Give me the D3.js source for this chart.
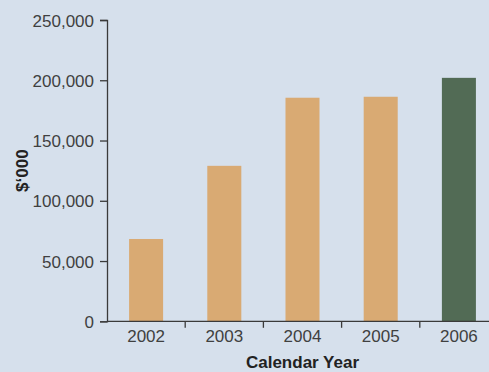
<!DOCTYPE html>
<html>
<head>
<meta charset="utf-8">
<script src="https://cdn.jsdelivr.net/npm/d3@7/dist/d3.min.js"></script>
<style>
  html, body { margin: 0; padding: 0; background: #d6e0ec; }
  svg { display: block; }
  text { font-family: "Liberation Sans", Arial, Helvetica, sans-serif; }
</style>
</head>
<body>
<svg id="chart" width="489" height="372"></svg>
<script>
const years = ["2002", "2003", "2004", "2005", "2006"];
const values = [68300, 129000, 185500, 186300, 202000];
const barColors = ["#d9aa73", "#d9aa73", "#d9aa73", "#d9aa73", "#526b55"];
const yTicks = [0, 50000, 100000, 150000, 200000, 250000];
const yTitle = "$\u2018000";
const xTitle = "Calendar Year";

const W = 489, H = 372;
const svg = d3.select("#chart");
svg.append("rect").attr("width", W).attr("height", H).attr("fill", "#d6e0ec");

const plotLeft = 107, plotRight = 498, plotTop = 20, plotBottom = 321.3;
const x = d3.scaleBand().domain(years).range([plotLeft, plotRight])
  .paddingInner(0.565).paddingOuter(0.2825);
const y = d3.scaleLinear().domain([0, 250000]).range([plotBottom, plotTop]);
const step = x.step();

// bars
svg.append("g").selectAll("rect").data(years).join("rect")
  .attr("x", d => x(d))
  .attr("width", x.bandwidth())
  .attr("y", (d, i) => y(values[i]))
  .attr("height", (d, i) => y(0) - y(values[i]))
  .attr("fill", (d, i) => barColors[i]);

const axisColor = "#3a3a3a";
const textColor = "#404040";

// y axis
const yAxis = svg.append("g").attr("transform", `translate(${plotLeft},0)`)
  .call(d3.axisLeft(y).tickValues(yTicks).tickSizeOuter(0).tickSize(7).tickPadding(6)
    .tickFormat(d3.format(",")));
yAxis.select(".domain").attr("stroke", axisColor).attr("stroke-width", 1.3);
yAxis.selectAll(".tick line").attr("stroke", axisColor).attr("stroke-width", 1.3);
yAxis.selectAll(".tick text").attr("fill", textColor)
  .style("font-size", "17px").attr("dy", "0.36em");

// x axis baseline
svg.append("line").attr("x1", plotLeft).attr("x2", W).attr("y1", y(0)).attr("y2", y(0))
  .attr("stroke", axisColor).attr("stroke-width", 1.3);
// boundary ticks
const bounds = d3.range(1, years.length).map(i => plotLeft + i * step);
svg.append("g").selectAll("line").data(bounds).join("line")
  .attr("x1", d => d).attr("x2", d => d)
  .attr("y1", y(0)).attr("y2", y(0) + 6.5)
  .attr("stroke", axisColor).attr("stroke-width", 1.3);
// x labels
svg.append("g").selectAll("text").data(years).join("text")
  .attr("x", d => x(d) + x.bandwidth() / 2)
  .attr("y", 342)
  .attr("text-anchor", "middle")
  .attr("fill", textColor)
  .style("font-size", "17px")
  .text(d => d);

// axis titles
svg.append("text")
  .attr("x", (plotLeft + plotRight) / 2).attr("y", 368)
  .attr("text-anchor", "middle")
  .attr("fill", "#222")
  .style("font-size", "17px").style("font-weight", "bold")
  .text(xTitle);

svg.append("text")
  .attr("transform", `translate(28,${(plotTop + plotBottom) / 2}) rotate(-90)`)
  .attr("text-anchor", "middle")
  .attr("fill", "#222")
  .style("font-size", "17px").style("font-weight", "bold")
  .text(yTitle);
</script>
</body>
</html>
